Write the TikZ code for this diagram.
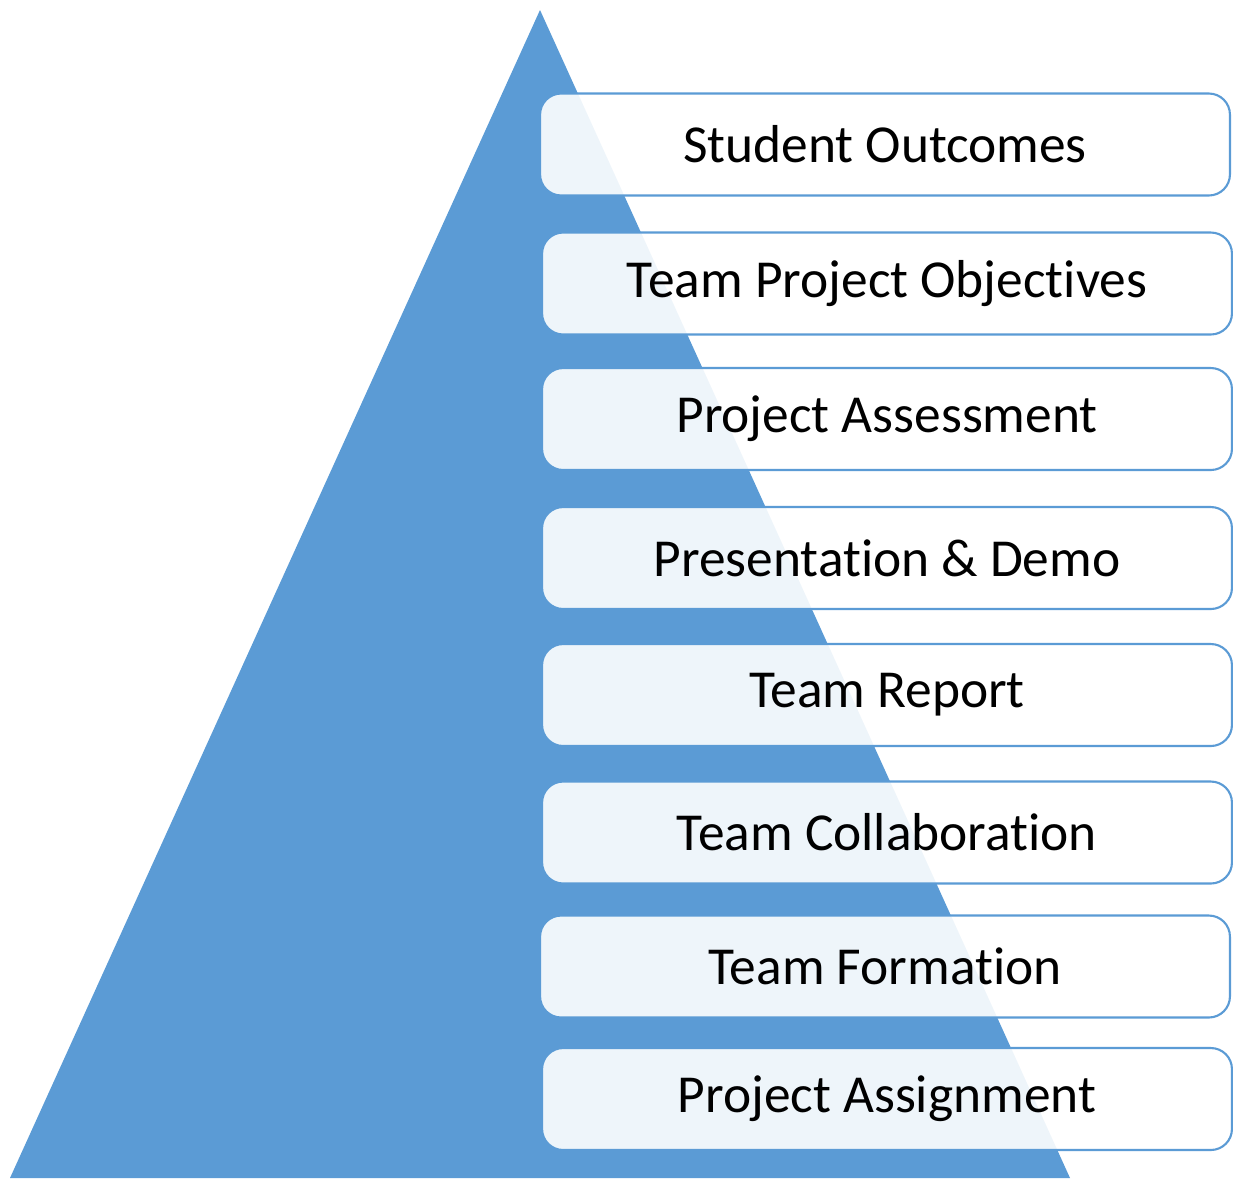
\documentclass[tikz,border=0pt]{standalone}
\usepackage{fontspec}
\setmainfont[RawFeature={-liga;-clig;-calt;-dlig}]{Carlito}
\definecolor{pyrblue}{HTML}{5B9BD5}
\tikzset{
  stagebox/.style={draw=pyrblue,line width=1.2pt,fill=white,fill opacity=0.9,text opacity=1,
    rounded corners=12pt,minimum width=13.8cm,minimum height=2.04cm,font=\fontsize{30.4}{36}\selectfont}
}
\begin{document}
\begin{tikzpicture}[x=0.02cm,y=-0.02cm]
          \useasboundingbox (0,0) rectangle (1233,1178);
          \fill[pyrblue] (540,10) -- (1070,1178) -- (10,1178) -- cycle;

          \node[stagebox] (outcomes) at (885,144.5) {Student Outcomes};
          \node[stagebox] (objectives) at (887,283.5) {Team Project Objectives};
          \node[stagebox] (assessment) at (887,419) {Project Assessment};
          \node[stagebox] (demo) at (887,558) {Presentation \& Demo};
          \node[stagebox] (report) at (887,695) {Team Report};
          \node[stagebox] (collab) at (887,832.5) {Team Collaboration};
          \node[stagebox] (formation) at (885,966.5) {Team Formation};
          \node[stagebox] (assignment) at (887,1099) {Project Assignment};
        \end{tikzpicture}
\end{document}
